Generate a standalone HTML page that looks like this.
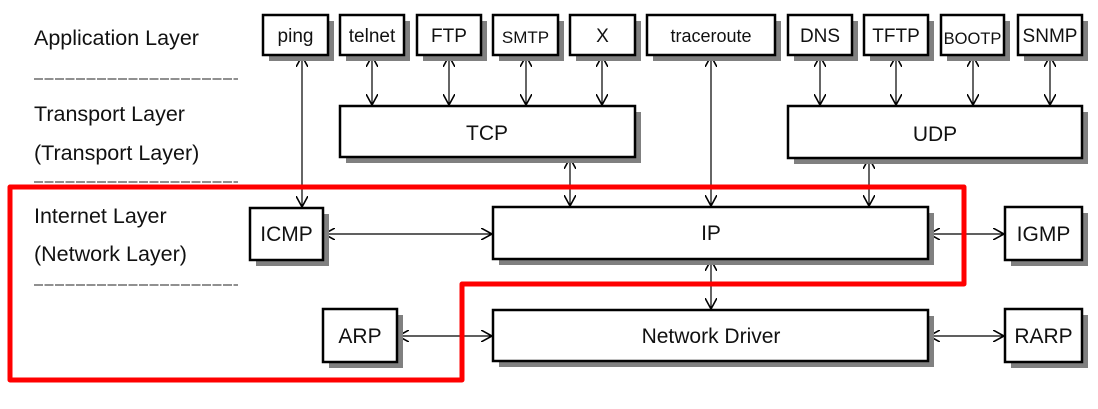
<!DOCTYPE html>
<html><head><meta charset="utf-8"><style>
html,body{margin:0;padding:0;background:#fff;}
svg{display:block;font-family:"Liberation Sans",Arial,sans-serif;}
</style></head><body>
<svg width="1098" height="409" viewBox="0 0 1098 409" xmlns="http://www.w3.org/2000/svg">
<defs>
<marker id="a" viewBox="0 0 12 12" refX="11" refY="6" markerWidth="12" markerHeight="12" markerUnits="userSpaceOnUse" orient="auto-start-reverse">
<path d="M0,0 L11,6 L0,12" fill="none" stroke="#000" stroke-width="1.6"/>
</marker>
</defs>
<g style="font-size:21.5px" fill="#111">
<text x="34" y="45">Application Layer</text>
<text x="34" y="121">Transport Layer</text>
<text x="34" y="160">(Transport Layer)</text>
<text x="34" y="223">Internet Layer</text>
<text x="34" y="261">(Network Layer)</text>
</g>
<g stroke="#222" stroke-width="1" stroke-dasharray="9,1.5">
<line x1="34" y1="79" x2="238" y2="79"/>
<line x1="34" y1="182" x2="238" y2="182"/>
<line x1="34" y1="285" x2="238" y2="285"/>
</g>
<g stroke="#000" stroke-width="1.2" fill="none" marker-start="url(#a)" marker-end="url(#a)">
<line x1="302" y1="56" x2="302" y2="207"/>
<line x1="372" y1="56" x2="372" y2="105"/>
<line x1="449" y1="56" x2="449" y2="105"/>
<line x1="526" y1="56" x2="526" y2="105"/>
<line x1="602" y1="56" x2="602" y2="105"/>
<line x1="711" y1="56" x2="711" y2="206"/>
<line x1="820" y1="56" x2="820" y2="105"/>
<line x1="896" y1="56" x2="896" y2="105"/>
<line x1="973" y1="56" x2="973" y2="105"/>
<line x1="1050" y1="56" x2="1050" y2="105"/>
<line x1="570" y1="158" x2="570" y2="206"/>
<line x1="869" y1="158" x2="869" y2="206"/>
<line x1="324" y1="234" x2="492" y2="234"/>
<line x1="929" y1="234" x2="1004" y2="234"/>
<line x1="711" y1="260" x2="711" y2="309"/>
<line x1="398" y1="336" x2="492" y2="336"/>
<line x1="929" y1="336" x2="1004" y2="336"/>
</g>
<g style="font-size:21px" text-anchor="middle" fill="#111">
<rect x="269" y="21" width="65" height="40" fill="#808080"/>
<rect x="263" y="15" width="65" height="40" fill="#fff" stroke="#000" stroke-width="2.5"/>
<text x="295.5" y="42" style="font-size:19px">ping</text>
<rect x="346" y="21" width="64" height="40" fill="#808080"/>
<rect x="340" y="15" width="64" height="40" fill="#fff" stroke="#000" stroke-width="2.5"/>
<text x="372" y="42" style="font-size:19px">telnet</text>
<rect x="423" y="21" width="64" height="40" fill="#808080"/>
<rect x="417" y="15" width="64" height="40" fill="#fff" stroke="#000" stroke-width="2.5"/>
<text x="449" y="42" style="font-size:19px">FTP</text>
<rect x="499" y="21" width="65" height="40" fill="#808080"/>
<rect x="493" y="15" width="65" height="40" fill="#fff" stroke="#000" stroke-width="2.5"/>
<text x="525.5" y="43" style="font-size:17px">SMTP</text>
<rect x="576" y="21" width="65" height="40" fill="#808080"/>
<rect x="570" y="15" width="65" height="40" fill="#fff" stroke="#000" stroke-width="2.5"/>
<text x="602.5" y="42" style="font-size:19px">X</text>
<rect x="653" y="21" width="128" height="40" fill="#808080"/>
<rect x="647" y="15" width="128" height="40" fill="#fff" stroke="#000" stroke-width="2.5"/>
<text x="711" y="42" style="font-size:18px">traceroute</text>
<rect x="794" y="21" width="64" height="40" fill="#808080"/>
<rect x="788" y="15" width="64" height="40" fill="#fff" stroke="#000" stroke-width="2.5"/>
<text x="820" y="42" style="font-size:19px">DNS</text>
<rect x="870" y="21" width="64" height="40" fill="#808080"/>
<rect x="864" y="15" width="64" height="40" fill="#fff" stroke="#000" stroke-width="2.5"/>
<text x="896" y="42" style="font-size:19px">TFTP</text>
<rect x="947" y="21" width="63" height="40" fill="#808080"/>
<rect x="941" y="15" width="63" height="40" fill="#fff" stroke="#000" stroke-width="2.5"/>
<text x="972.5" y="44" style="font-size:16.5px">BOOTP</text>
<rect x="1024" y="21" width="64" height="40" fill="#808080"/>
<rect x="1018" y="15" width="64" height="40" fill="#fff" stroke="#000" stroke-width="2.5"/>
<text x="1050" y="42" style="font-size:19px">SNMP</text>

<rect x="346" y="112" width="295" height="51" fill="#808080"/>
<rect x="340" y="106" width="295" height="51" fill="#fff" stroke="#000" stroke-width="2.5"/>
<text x="487" y="140">TCP</text>
<rect x="794" y="112" width="294" height="52" fill="#808080"/>
<rect x="788" y="106" width="294" height="52" fill="#fff" stroke="#000" stroke-width="2.5"/>
<text x="935" y="141">UDP</text>

<rect x="256" y="214" width="73" height="52" fill="#808080"/>
<rect x="250" y="208" width="73" height="52" fill="#fff" stroke="#000" stroke-width="2.5"/>
<text x="286.5" y="241">ICMP</text>
<rect x="499" y="213" width="435" height="52" fill="#808080"/>
<rect x="493" y="207" width="435" height="52" fill="#fff" stroke="#000" stroke-width="2.5"/>
<text x="711" y="240">IP</text>
<rect x="1011" y="213" width="77" height="53" fill="#808080"/>
<rect x="1005" y="207" width="77" height="53" fill="#fff" stroke="#000" stroke-width="2.5"/>
<text x="1043.5" y="241">IGMP</text>

<rect x="329" y="315" width="74" height="53" fill="#808080"/>
<rect x="323" y="309" width="74" height="53" fill="#fff" stroke="#000" stroke-width="2.5"/>
<text x="360" y="343">ARP</text>
<rect x="499" y="316" width="435" height="51" fill="#808080"/>
<rect x="493" y="310" width="435" height="51" fill="#fff" stroke="#000" stroke-width="2.5"/>
<text x="711" y="343">Network Driver</text>
<rect x="1011" y="315" width="77" height="53" fill="#808080"/>
<rect x="1005" y="309" width="77" height="53" fill="#fff" stroke="#000" stroke-width="2.5"/>
<text x="1043.5" y="343">RARP</text>
</g>
<path d="M10,187 L964,187 L964,284 L462,284 L462,380 L10,380 Z" fill="none" stroke="#ff0000" stroke-width="5" stroke-linejoin="round"/>
</svg>
</body></html>
